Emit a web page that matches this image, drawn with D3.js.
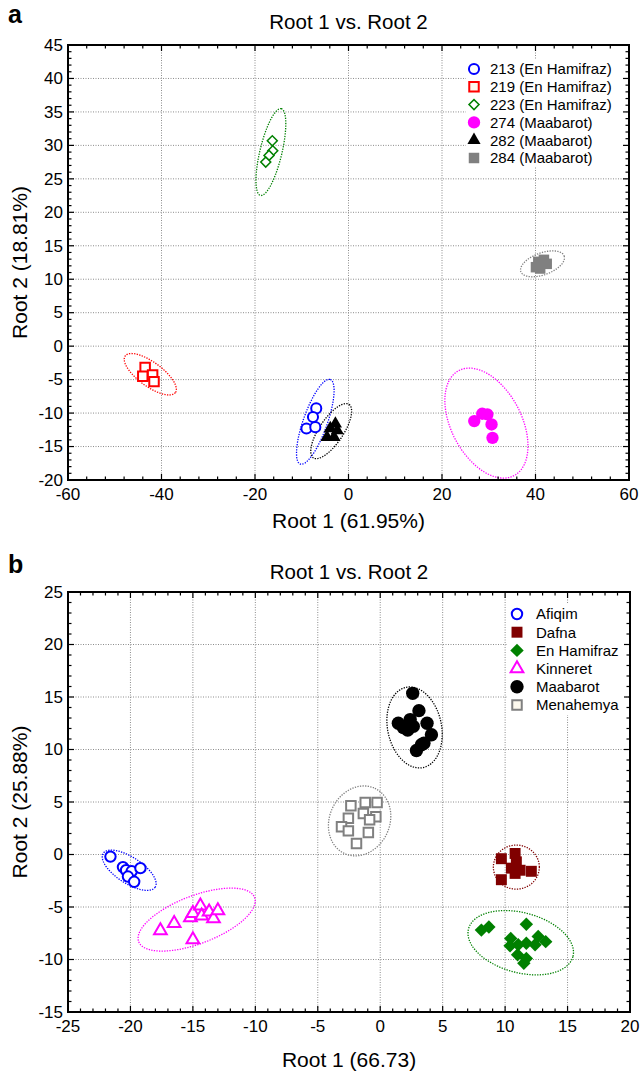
<!DOCTYPE html>
<html>
<head>
<meta charset="utf-8">
<script src="https://cdn.jsdelivr.net/npm/d3@7"></script>
<style>
  body { margin: 0; background: #fff; }
  text { font-family: "Liberation Sans", Arial, Helvetica, sans-serif; fill: #000; }
</style>
</head>
<body>
<svg id="chart" width="641" height="1075"></svg>
<script>
// ---- panel a data ----
const groupsA = ["213 (En Hamifraz)", "219 (En Hamifraz)", "223 (En Hamifraz)", "274 (Maabarot)", "282 (Maabarot)", "284 (Maabarot)"];
const pointsA = [
  // [group index, root1, root2]
  [0, -6.9, -9.3], [0, -7.6, -10.6], [0, -9.0, -12.3], [0, -7.1, -12.1],
  [1, -43.5, -3.2], [1, -44.0, -4.5], [1, -41.9, -4.3], [1, -41.6, -5.3],
  [2, -16.3, 30.7], [2, -16.2, 29.2], [2, -17.0, 28.5], [2, -17.7, 27.5],
  [3, 26.9, -11.2], [3, 28.6, -10.1], [3, 29.7, -10.2], [3, 30.6, -11.7], [3, 30.8, -13.7],
  [4, -2.8, -11.6], [4, -3.9, -12.3], [4, -4.6, -13.6], [4, -3.1, -13.6], [4, -2.4, -12.6],
  [5, 40.1, 11.8], [5, 40.6, 12.6], [5, 41.8, 12.9], [5, 42.4, 12.3], [5, 41.0, 11.6]
];
// confidence ellipses: [group, centre x, centre y, axis1 dx, dy, axis2 dx, dy]
const ellipsesA = [
  [0, -7.1, -11.3, 3.21, 6.32, 2.42, -0.6],
  [1, -42.4, -4.2, 5.36, -2.74, -1.52, -1.45],
  [2, -16.6, 29.0, 2.22, 6.48, 2.29, -0.38],
  [3, 29.5, -11.5, 5.91, -7.85, -6.64, -2.44],
  [4, -3.7, -12.7, 3.81, 3.99, 2.14, -1.0],
  [5, 41.5, 12.3, 4.63, 1.17, 0.79, -1.54]
];
const xTicksA = [-60, -40, -20, 0, 20, 40, 60];
const yTicksA = [-20, -15, -10, -5, 0, 5, 10, 15, 20, 25, 30, 35, 40, 45];

// ---- panel b data ----
const groupsB = ["Afiqim", "Dafna", "En Hamifraz", "Kinneret", "Maabarot", "Menahemya"];
const pointsB = [
  [0, -21.6, -0.2], [0, -20.6, -1.2], [0, -20.35, -1.5], [0, -19.9, -1.6], [0, -19.2, -1.3], [0, -20.2, -2.1], [0, -19.7, -2.6],
  [1, 9.7, -0.4], [1, 10.8, 0.1], [1, 10.9, -0.7], [1, 10.5, -1.3], [1, 11.2, -1.5], [1, 12.1, -1.6], [1, 9.7, -2.4], [1, 10.8, -1.8],
  [2, 8.1, -7.2], [2, 8.7, -6.9], [2, 11.7, -6.65], [2, 10.45, -8.0], [2, 10.4, -8.7], [2, 11.05, -8.6], [2, 11.7, -8.45],
  [2, 12.65, -7.8], [2, 12.4, -8.6], [2, 13.25, -8.3], [2, 11.0, -9.55], [2, 11.7, -9.9], [2, 11.5, -10.35],
  [3, -17.6, -7.25], [3, -16.5, -6.55], [3, -15.2, -6.0], [3, -15.0, -5.6], [3, -14.4, -4.9], [3, -14.3, -5.85],
  [3, -13.7, -5.45], [3, -13.35, -6.1], [3, -13.0, -5.35], [3, -15.0, -8.1],
  [4, 2.6, 15.35], [4, 3.1, 13.7], [4, 1.45, 12.5], [4, 1.85, 12.1], [4, 2.4, 12.85], [4, 2.2, 11.85],
  [4, 2.65, 12.2], [4, 3.75, 12.5], [4, 4.1, 11.4], [4, 3.5, 10.6], [4, 2.9, 9.9], [4, 3.3, 10.45],
  [5, -2.35, 4.65], [5, -1.2, 4.95], [5, -0.25, 4.95], [5, -2.55, 3.45], [5, -1.35, 3.9], [5, -0.35, 3.6],
  [5, -0.85, 3.3], [5, -3.1, 2.65], [5, -2.55, 2.25], [5, -0.95, 2.1], [5, -1.9, 1.05]
];
const ellipsesB = [
  [0, -20.1, -1.5, 2.08, -1.61, -0.57, -1.04],
  [1, 10.9, -1.2, 1.84, 0, 0, 2.1],
  [2, 11.25, -8.4, 4.18, -1.33, -0.62, -2.76],
  [3, -14.7, -6.2, 4.64, 2.11, 0.69, -2.13],
  [4, 2.75, 12.1, -0.68, 3.82, 2.11, 0.53],
  [5, -1.65, 3.2, 1.22, 3.1, 2.18, -1.21]
];
const xTicksB = [-25, -20, -15, -10, -5, 0, 5, 10, 15, 20];
const yTicksB = [-15, -10, -5, 0, 5, 10, 15, 20, 25];

// ---- marker styles ----
const stylesA = [
  { shape: d3.symbolCircle, size: 80, fill: "#fff", stroke: "#0000ff", sw: 2 },
  { shape: d3.symbolSquare, size: 90, fill: "#fff", stroke: "#ff0000", sw: 2, legendFill: "#fdf9ee" },
  { shape: d3.symbolSquare, size: 50, fill: "#fff", stroke: "#008000", sw: 1.5, rotate: 45 },
  { shape: d3.symbolCircle, size: 120, fill: "#ff00ff", stroke: "none", sw: 0 },
  { shape: d3.symbolTriangle, size: 75, fill: "#000", stroke: "none", sw: 0 },
  { shape: d3.symbolSquare, size: 110, fill: "#808080", stroke: "none", sw: 0 }
];
const ellipseColorsA = ["#0000ff", "#ff0000", "#008000", "#ff00ff", "#000", "#808080"];

const stylesB = [
  { shape: d3.symbolCircle, size: 85, fill: "#fff", stroke: "#0000ff", sw: 2 },
  { shape: d3.symbolSquare, size: 120, fill: "#800000", stroke: "none", sw: 0 },
  { shape: d3.symbolSquare, size: 90, fill: "#008000", stroke: "none", sw: 0, rotate: 45 },
  { shape: d3.symbolTriangle, size: 70, fill: "#fff", stroke: "#ff00ff", sw: 2 },
  { shape: d3.symbolCircle, size: 140, fill: "#000", stroke: "none", sw: 0 },
  { shape: d3.symbolSquare, size: 90, fill: "#fff", stroke: "#808080", sw: 2, legendFill: "#fdf9ee" }
];
const ellipseColorsB = ["#0000ff", "#800000", "#008000", "#ff00ff", "#000", "#808080"];

const svg = d3.select("#chart");

function drawPanel(cfg) {
  const g = svg.append("g");
  const x = d3.scaleLinear().domain(cfg.xDomain).range([cfg.left, cfg.right]);
  const y = d3.scaleLinear().domain(cfg.yDomain).range([cfg.bottom, cfg.top]);

  // dotted grid
  g.append("g").selectAll("line").data(cfg.xTicks.slice(1, -1)).join("line")
    .attr("x1", d => x(d)).attr("x2", d => x(d))
    .attr("y1", cfg.top).attr("y2", cfg.bottom)
    .attr("stroke", "#8c8c8c").attr("stroke-width", 1).attr("stroke-dasharray", "1,1.5");
  g.append("g").selectAll("line").data(cfg.yTicks.slice(1, -1)).join("line")
    .attr("y1", d => y(d)).attr("y2", d => y(d))
    .attr("x1", cfg.left).attr("x2", cfg.right)
    .attr("stroke", "#8c8c8c").attr("stroke-width", 1).attr("stroke-dasharray", "1,1.5");

  // ellipses
  const line = d3.line().curve(d3.curveLinearClosed);
  const steps = d3.range(0, 2 * Math.PI, Math.PI / 60);
  g.append("g").selectAll("path").data(cfg.ellipses).join("path")
    .attr("d", e => line(steps.map(t => [
      x(e[1] + e[3] * Math.cos(t) + e[5] * Math.sin(t)),
      y(e[2] + e[4] * Math.cos(t) + e[6] * Math.sin(t))
    ])))
    .attr("fill", "none")
    .attr("stroke", e => cfg.ellipseColors[e[0]])
    .attr("stroke-width", 1.3)
    .attr("stroke-dasharray", "1.3,1.3");

  // points
  const sym = d3.symbol();
  g.append("g").selectAll("path").data(cfg.points).join("path")
    .attr("d", p => sym.type(cfg.styles[p[0]].shape).size(cfg.styles[p[0]].size)())
    .attr("transform", p => `translate(${x(p[1])},${y(p[2])}) rotate(${cfg.styles[p[0]].rotate || 0})`)
    .attr("fill", p => cfg.styles[p[0]].fill)
    .attr("stroke", p => cfg.styles[p[0]].stroke)
    .attr("stroke-width", p => cfg.styles[p[0]].sw);

  // legend
  const lg = g.append("g");
  lg.append("rect")
    .attr("x", cfg.legend.x).attr("y", cfg.legend.y)
    .attr("width", cfg.legend.w).attr("height", cfg.legend.h)
    .attr("fill", "#fff");
  const rows = lg.selectAll("g").data(cfg.groups).join("g")
    .attr("transform", (d, i) => `translate(${cfg.legend.sx},${cfg.legend.y0 + i * cfg.legend.dy})`);
  rows.append("path")
    .attr("d", (d, i) => sym.type(cfg.styles[i].shape).size(cfg.styles[i].size)())
    .attr("transform", (d, i) => `rotate(${cfg.styles[i].rotate || 0})`)
    .attr("fill", (d, i) => cfg.styles[i].legendFill || cfg.styles[i].fill)
    .attr("stroke", (d, i) => cfg.styles[i].stroke)
    .attr("stroke-width", (d, i) => cfg.styles[i].sw);
  rows.append("text")
    .attr("x", cfg.legend.tx).attr("dy", "0.36em")
    .style("font-size", "15px")
    .text(d => d);

  // frame
  g.append("rect")
    .attr("x", cfg.left).attr("y", cfg.top)
    .attr("width", cfg.right - cfg.left).attr("height", cfg.bottom - cfg.top)
    .attr("fill", "none").attr("stroke", "#000").attr("stroke-width", 2);

  // inward ticks on all four sides
  const xMinor = d3.range(cfg.xDomain[0], cfg.xDomain[1] + 1e-9, cfg.xMinorStep);
  const yMinor = d3.range(cfg.yDomain[0], cfg.yDomain[1] + 1e-9, cfg.yMinorStep);
  const tk = g.append("g").attr("stroke", "#000").attr("stroke-width", 1.2);
  [[cfg.bottom, -1], [cfg.top, 1]].forEach(([yy, s]) => {
    tk.append("g").selectAll("line").data(xMinor).join("line")
      .attr("x1", d => x(d)).attr("x2", d => x(d))
      .attr("y1", yy).attr("y2", d => yy + s * (cfg.xTicks.includes(+d.toFixed(6)) ? 6 : 3.5));
  });
  [[cfg.left, 1], [cfg.right, -1]].forEach(([xx, s]) => {
    tk.append("g").selectAll("line").data(yMinor).join("line")
      .attr("y1", d => y(d)).attr("y2", d => y(d))
      .attr("x1", xx).attr("x2", d => xx + s * (cfg.yTicks.includes(+d.toFixed(6)) ? 6 : 3.5));
  });

  // tick labels
  g.append("g").selectAll("text").data(cfg.xTicks).join("text")
    .attr("x", d => x(d)).attr("y", cfg.bottom + cfg.xLabelOff)
    .attr("text-anchor", "middle").style("font-size", "17px")
    .text(d => d);
  g.append("g").selectAll("text").data(cfg.yTicks).join("text")
    .attr("x", cfg.left - 5).attr("y", d => y(d)).attr("dy", "0.34em")
    .attr("text-anchor", "end").style("font-size", "17px")
    .text(d => d);

  // titles
  g.append("text")
    .attr("x", (cfg.left + cfg.right) / 2).attr("y", cfg.titleY)
    .attr("text-anchor", "middle").style("font-size", "20.5px")
    .text(cfg.title);
  g.append("text")
    .attr("x", (cfg.left + cfg.right) / 2).attr("y", cfg.xTitleY)
    .attr("text-anchor", "middle").style("font-size", "21px")
    .text(cfg.xTitle);
  g.append("text")
    .attr("transform", `translate(27,${(cfg.top + cfg.bottom) / 2}) rotate(-90)`)
    .attr("text-anchor", "middle").style("font-size", "21px")
    .text(cfg.yTitle);
  g.append("text")
    .attr("x", 8).attr("y", cfg.letterY)
    .style("font-size", "25px").style("font-weight", "bold")
    .text(cfg.letter);
}

drawPanel({
  left: 68, right: 629, top: 45, bottom: 480,
  xDomain: [-60, 60], yDomain: [-20, 45],
  xTicks: xTicksA, yTicks: yTicksA, xMinorStep: 4, yMinorStep: 1,
  points: pointsA, ellipses: ellipsesA, groups: groupsA,
  styles: stylesA, ellipseColors: ellipseColorsA,
  legend: { x: 466, y: 59, w: 160, h: 108, sx: 474, tx: 16, y0: 69, dy: 17.8 },
  xLabelOff: 20, titleY: 29, xTitleY: 528,
  title: "Root 1 vs. Root 2", xTitle: "Root 1 (61.95%)", yTitle: "Root 2 (18.81%)",
  letter: "a", letterY: 23
});

drawPanel({
  left: 68, right: 630, top: 592, bottom: 1012,
  xDomain: [-25, 20], yDomain: [-15, 25],
  xTicks: xTicksB, yTicks: yTicksB, xMinorStep: 1, yMinorStep: 1,
  points: pointsB, ellipses: ellipsesB, groups: groupsB,
  styles: stylesB, ellipseColors: ellipseColorsB,
  legend: { x: 508, y: 603, w: 118, h: 112, sx: 517, tx: 19, y0: 614, dy: 18.2 },
  xLabelOff: 20, titleY: 579, xTitleY: 1067,
  title: "Root 1 vs. Root 2", xTitle: "Root 1 (66.73)", yTitle: "Root 2 (25.88%)",
  letter: "b", letterY: 573
});
</script>
</body>
</html>
